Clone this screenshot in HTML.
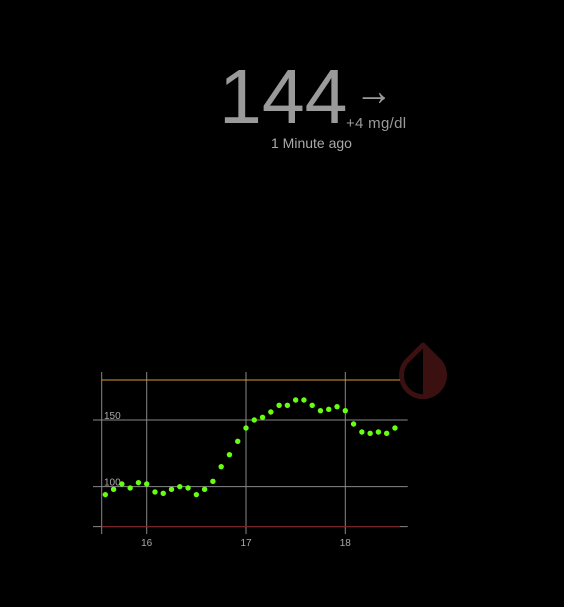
<!DOCTYPE html>
<html><head><meta charset="utf-8"><style>
html,body{margin:0;padding:0;background:#000;width:564px;height:607px;overflow:hidden;font-family:"Liberation Sans",sans-serif}
.t{position:absolute;color:#9a9a9a;white-space:nowrap}
</style></head><body>
<div class="t" style="left:219px;top:52px;font-size:77px;line-height:90px;">144</div>
<div class="t" style="left:355px;top:68px;font-size:42px;line-height:46px;transform:scaleX(0.9);transform-origin:left">→</div>
<div class="t" style="left:346px;top:115px;font-size:15px;line-height:17px;letter-spacing:0.3px">+4 mg/dl</div>
<div class="t" style="left:271px;top:135px;font-size:14px;line-height:16px;color:#aaa">1 Minute ago</div>
<svg id="chart" width="564" height="607" style="position:absolute;left:0;top:0">
<path d="M423,345 L440,362 A21.5,21.5 0 1 1 406,362 Z" fill="none" stroke="#3a1010" stroke-width="5" stroke-linejoin="round"/>
<path d="M423,345 L440,362 A21.5,21.5 0 0 1 423,398 Z" fill="#3a1010"/>
</svg>
<script>
var times=["15:35","15:40","15:45","15:50","15:55","16:00","16:05","16:10","16:15","16:20","16:25","16:30","16:35","16:40","16:45","16:50","16:55","17:00","17:05","17:10","17:15","17:20","17:25","17:30","17:35","17:40","17:45","17:50","17:55","18:00","18:05","18:10","18:15","18:20","18:25","18:30"];
var values=[94,98,102,99,103,102,96,95,98,100,99,94,98,104,115,124,134,144,150,152,156,161,161,165,165,161,157,158,160,157,147,141,140,141,140,144];
var yTicks=[100,150];
var xTicks=[16,17,18];
var highLine=180, lowLine=70;
var NS="http://www.w3.org/2000/svg", svg=document.getElementById('chart');
function xs(h){return 146.7+(h-16)*99.3;}
function ys(v){return 420-(v-150)*1.333;}
function hr(t){var p=t.split(':');return +p[0]+p[1]/60;}
function mk(tag,a){var e=document.createElementNS(NS,tag);for(var k in a)e.setAttribute(k,a[k]);svg.appendChild(e);return e;}
var L=101.7,R=407.7;
var e=mk('line',{x1:L,x2:L,y1:372,y2:534,stroke:'#888','stroke-width':1});


yTicks.forEach(function(v){
 var g=mk('line',{x1:93,x2:R,y1:ys(v),y2:ys(v),stroke:'#888','stroke-width':1});
 
 
 var t=mk('text',{x:104,y:ys(v)-1,fill:'#aaa','font-size':10,'font-family':'Liberation Sans, sans-serif'});t.textContent=v;
 
 
});
var b=mk('line',{x1:93,x2:R,y1:ys(lowLine),y2:ys(lowLine),stroke:'#888','stroke-width':1});


xTicks.forEach(function(h){
 var g=mk('line',{x1:xs(h),x2:xs(h),y1:372,y2:534,stroke:'#888','stroke-width':1});
 
 
 var t=mk('text',{x:xs(h),y:546,fill:'#aaa','font-size':10,'text-anchor':'middle','font-family':'Liberation Sans, sans-serif'});t.textContent=h;
 
 
});
var hi=mk('line',{x1:L,x2:400,y1:ys(highLine),y2:ys(highLine),stroke:'#d89a2a','stroke-width':1});


var lo=mk('line',{x1:L,x2:400,y1:ys(lowLine),y2:ys(lowLine),stroke:'#7a1c1c','stroke-width':1});


values.forEach(function(v,i){
 var c=mk('circle',{cx:xs(hr(times[i])),cy:ys(v),r:2.7,fill:'#66ff11'});
 
 
});
</script>
</body></html>
